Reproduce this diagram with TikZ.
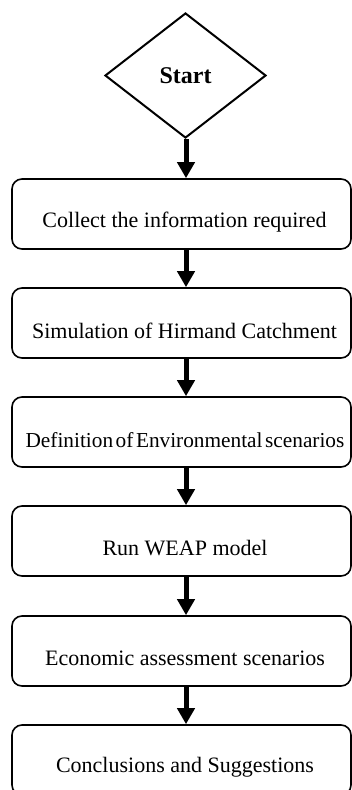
\documentclass[tikz,border=0pt]{standalone}
\usepackage{fontspec}
\setmainfont{Liberation Serif}
\usetikzlibrary{shapes.geometric,arrows.meta}
\tikzset{
  stepbox/.style={draw=black, line width=1.6pt, rounded corners=10pt, minimum width=339pt, minimum height=70pt, inner sep=0pt},
  steptext/.style={inner sep=0pt, font=\fontsize{22}{25}\selectfont},
  startshape/.style={draw=black, line width=2pt, diamond, minimum width=161pt, minimum height=125pt, inner sep=0pt, font=\bfseries\fontsize{24}{28}\selectfont},
  flowarrow/.style={line width=5pt, -{Triangle[width=17pt,length=16pt]}}
}
\begin{document}
\begin{tikzpicture}[x=1pt,y=-1pt]
\useasboundingbox (0,0) rectangle (352,790);
\node[startshape] (start) at (185.5,75.5) {Start};
\node[stepbox] (b1) at (181.5,214) {};
\node[stepbox] (b2) at (181.5,323) {};
\node[stepbox] (b3) at (181.5,432) {};
\node[stepbox] (b4) at (181.5,541) {};
\node[stepbox] (b5) at (181.5,651) {};
\node[stepbox] (b6) at (181.5,760) {};
\node[steptext] (t1) at (184.5,222) {Collect the information required};
\node[steptext] (t2) at (184.5,331) {Simulation of Hirmand Catchment};
\node[steptext,font=\fontsize{21.3}{25}\selectfont] (t3) at (185,440) {\spaceskip=0.12em Definition of Environmental scenarios};
\node[steptext] (t4) at (185,548) {Run WEAP model};
\node[steptext] (t5) at (185,658) {Economic assessment scenarios};
\node[steptext] (t6) at (185,767) {Conclusions and Suggestions};
\draw[flowarrow] (start.south -| 186,0) -- (b1.north -| 186,0);
\draw[flowarrow] (b1.south -| 186,0) -- (b2.north -| 186,0);
\draw[flowarrow] (b2.south -| 186,0) -- (b3.north -| 186,0);
\draw[flowarrow] (b3.south -| 186,0) -- (b4.north -| 186,0);
\draw[flowarrow] (b4.south -| 186,0) -- (b5.north -| 186,0);
\draw[flowarrow] (b5.south -| 186,0) -- (b6.north -| 186,0);
\end{tikzpicture}
\end{document}
